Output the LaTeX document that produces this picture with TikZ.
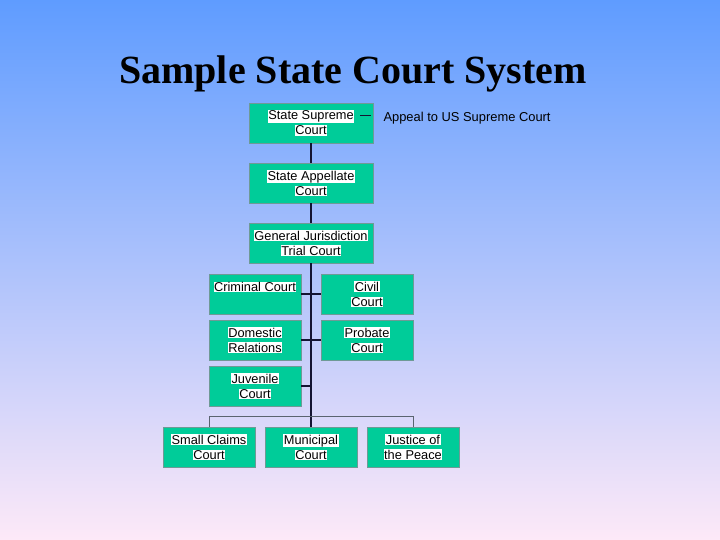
\documentclass[tikz,border=0pt]{standalone}
\usepackage{fontspec}
\setmainfont{Liberation Sans}
\newfontfamily\titlefont{Liberation Serif}
\usepackage{tikz}
\usetikzlibrary{calc,positioning}
\definecolor{sc-top}{HTML}{5F9CFF}
\definecolor{sc-mid}{HTML}{98C4F4}
\definecolor{sc-bottom}{HTML}{FDE9F8}
\definecolor{sc-box}{HTML}{00CC99}
\definecolor{sc-edge}{HTML}{6E9A96}
\definecolor{sc-line}{HTML}{141432}
\definecolor{sc-bar}{HTML}{5A6470}

% white band behind each line of box text
\newcommand{\wl}[1]{{\setlength{\fboxsep}{0.6pt}\colorbox{white}{#1}}}

\begin{document}
\begin{tikzpicture}[
    x=1pt, y=-1pt,
    court/.style={draw=sc-edge, fill=sc-box, line width=0.6pt,
                  minimum width=92pt, minimum height=40pt,
                  inner sep=0pt, align=center, font=\fontsize{12.8}{15}\selectfont},
    wide/.style={court, minimum width=124pt},
    trunk/.style={draw=sc-line, line width=1.8pt},
    branch/.style={draw=sc-line, line width=1.4pt},
    bar/.style={draw=sc-bar, line width=0.9pt}
]

% =========================================================================
% FUNDO E TITULO
% =========================================================================
\shade[top color=sc-top, middle color=sc-mid, bottom color=sc-bottom]
    (0,0) rectangle (720,540);
\node[font=\titlefont\bfseries\fontsize{40}{44}\selectfont] (title) at (353,74)
    {Sample State Court System};

% =========================================================================
% TRIBUNAIS SUPERIORES
% =========================================================================
\node[wide] (supreme) at (311,123) {\wl{State Supreme}\\\wl{Court}};
\node[wide] (appellate) at (311,183) {\wl{State Appellate}\\\wl{Court}};
\node[wide] (general) at (311,243) {\wl{General Jurisdiction}\\\wl{Trial Court}};

\node[font=\fontsize{12.9}{15}\selectfont, anchor=west] (appeal) at (380,118)
    {Appeal to US Supreme Court};
\coordinate (dash) at ($(supreme.east |- appeal.west) + (-13,-3)$);
\draw[draw=sc-line, line width=0.8pt] (dash) -- ++(11,0);

% =========================================================================
% TRIBUNAIS ESPECIALIZADOS
% =========================================================================
\node[court] (criminal) at (255,294) {\wl{Criminal Court}\\\phantom{C}};
\node[court] (civil) at (367,294) {\wl{Civil}\\\wl{Court}};
\node[court] (domestic) at (255,340) {\wl{Domestic}\\\wl{Relations}};
\node[court] (probate) at (367,340) {\wl{Probate}\\\wl{Court}};
\node[court] (juvenile) at (255,386) {\wl{Juvenile}\\\wl{Court}};

% =========================================================================
% TRIBUNAIS INFERIORES
% =========================================================================
\node[court] (small) at (209,447) {\wl{Small Claims}\\\wl{Court}};
\node[court] (municipal) at (311,447) {\wl{Municipal}\\\wl{Court}};
\node[court] (justice) at (413,447) {\wl{Justice of}\\\wl{the Peace}};

% =========================================================================
% LIGACOES
% =========================================================================
\draw[trunk] (supreme.south) -- (appellate.north);
\draw[trunk] (appellate.south) -- (general.north);
\draw[trunk] (general.south) -- (municipal.north);

\draw[branch] (criminal.east) -- (civil.west);
\draw[branch] (domestic.east) -- (probate.west);
\draw[branch] (juvenile.east) -- (juvenile.east -| general.south);

\coordinate (barY) at (0,416);
\draw[bar] (small.north) |- (barY -| justice.north) -- (justice.north);

\end{tikzpicture}
\end{document}
